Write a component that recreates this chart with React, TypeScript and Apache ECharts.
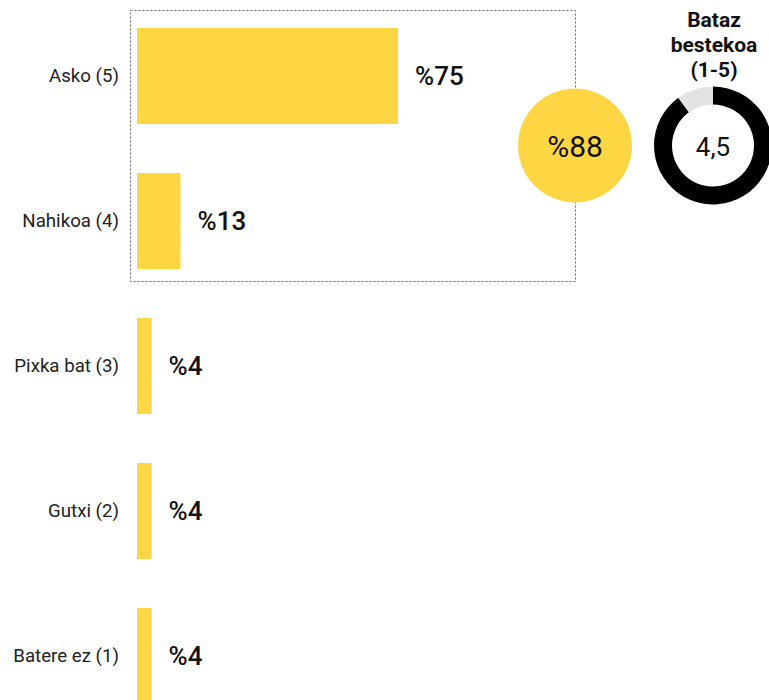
import React, { useEffect, useRef } from "react";
import * as echarts from "echarts";

const categories = ["Asko (5)", "Nahikoa (4)", "Pixka bat (3)", "Gutxi (2)", "Batere ez (1)"];
const percents = [75, 12.5, 4.2, 4.2, 4.2];
const averageValue = 4.5;
const scaleMax = 5;
const averageTitle = "Bataz\nbestekoa\n(1-5)";
const averageLabel = "4,5";

const YELLOW = "#fed643";

export default function App() {
  const ref = useRef<HTMLDivElement>(null);
  useEffect(() => {
    if (!ref.current) return;
    const chart = echarts.init(ref.current, null, { renderer: "svg" });
    const topShare = Math.round(percents[0] + percents[1]);
    chart.setOption({
      animation: false,
      textStyle: { fontFamily: "Roboto" },
      grid: { left: 137, width: 348, top: 3.5, height: 725 },
      xAxis: { type: "value", min: 0, max: 100, show: false },
      yAxis: {
        type: "category",
        data: categories,
        inverse: true,
        axisLine: { show: false },
        axisTick: { show: false },
        axisLabel: { margin: 18, fontSize: 18.7, color: "#222", fontFamily: "Roboto" },
      },
      series: [
        {
          type: "bar",
          data: percents,
          barWidth: 96,
          itemStyle: { color: YELLOW },
          label: {
            show: true,
            position: "right",
            distance: 17,
            formatter: (p: any) => "%" + Math.round(p.value),
            fontSize: 26,
            fontWeight: 500,
            color: "#111",
            fontFamily: "Roboto",
          },
          silent: true,
        },
        {
          type: "pie",
          center: [713, 145.5],
          radius: [41, 59],
          startAngle: 90,
          clockwise: true,
          label: { show: false },
          labelLine: { show: false },
          silent: true,
          data: [
            { value: averageValue, itemStyle: { color: "#000" } },
            { value: scaleMax - averageValue, itemStyle: { color: "#e3e3e3" } },
          ],
        },
      ],
      graphic: [
        {
          type: "rect",
          shape: { x: 130.5, y: 10.5, width: 445, height: 271 },
          style: { fill: "none", stroke: "#666", lineWidth: 1, lineDash: [2, 2] },
          z: 0,
        },
        {
          type: "circle",
          shape: { cx: 575, cy: 145.5, r: 57 },
          style: { fill: YELLOW },
          z: 10,
        },
        {
          type: "text",
          x: 575,
          y: 146,
          style: {
            text: "%" + topShare,
            fontSize: 30,
            fontFamily: "Roboto",
            fill: "#111",
            align: "center",
            verticalAlign: "middle",
          },
          z: 11,
        },
        {
          type: "text",
          x: 713,
          y: 147,
          style: {
            text: averageLabel,
            fontSize: 26,
            fontFamily: "Roboto",
            fill: "#111",
            align: "center",
            verticalAlign: "middle",
          },
          z: 11,
        },
        {
          type: "text",
          x: 714,
          y: 45,
          style: {
            text: averageTitle,
            fontSize: 21,
            fontWeight: "bold",
            lineHeight: 25,
            fontFamily: "Roboto",
            fill: "#111",
            align: "center",
            verticalAlign: "middle",
          },
          z: 11,
        },
      ],
    });
    return () => chart.dispose();
  }, []);
  return (
    <div style={{ position: "fixed", left: 0, top: 0, width: 769, height: 700, overflow: "hidden", background: "#fff" }}>
      <div ref={ref} style={{ width: 769, height: 730 }} />
    </div>
  );
}
